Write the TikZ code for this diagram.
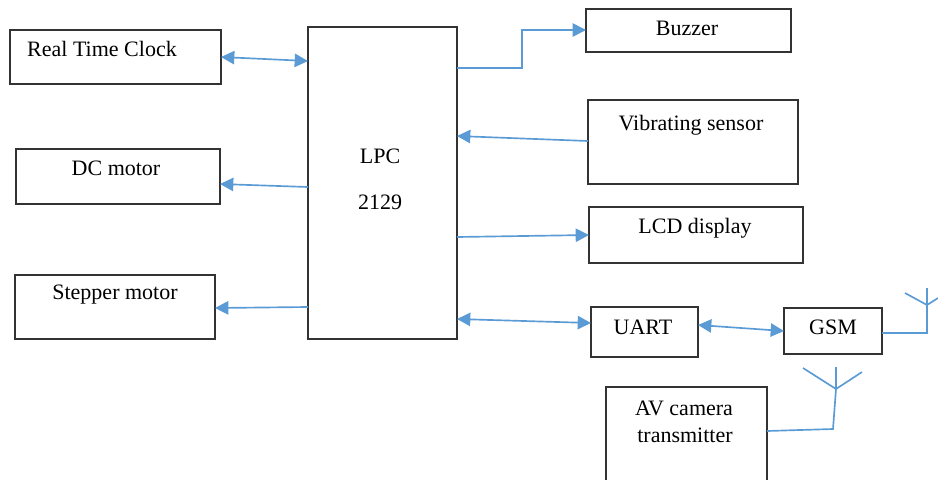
\documentclass[tikz,border=0pt]{standalone}
\usepackage{fontspec}
\setmainfont{Liberation Serif}
\usepackage{xcolor}
\usetikzlibrary{arrows.meta,positioning,calc}
\definecolor{linkblue}{HTML}{5B9BD5}
\tikzset{
  blockbox/.style 2 args={rectangle,draw=black!80,line width=1.1pt,inner sep=0pt,outer sep=0pt,
    minimum width=#1*0.75pt,minimum height=#2*0.75pt},
  blocktext/.style={font=\fontsize{16.5}{20}\selectfont,inner sep=0pt,align=center},
  onelink/.style={linkblue,line width=1.25pt,-{Triangle[length=10pt,width=10pt]}},
  twolink/.style={linkblue,line width=1.25pt,{Triangle[length=10pt,width=10pt]}-{Triangle[length=10pt,width=10pt]}},
  aerial/.style={linkblue,line width=1.25pt},
}
\begin{document}
\begin{tikzpicture}[x=0.75pt,y=-0.75pt]
  \useasboundingbox (0,0) rectangle (938,479);
  % controller
  \node[blockbox={149}{312}] (lpc) at (382.5,183) {};
  \node[blocktext] (lpctext) at (380,156) {LPC};
  \node[blocktext] (lpcnum) at (380,202) {2129};
  % left column
  \node[blockbox={211}{54}] (rtc) at (115.5,57) {};
  \node[blocktext] (rtctext) at (102,49) {Real Time Clock};
  \node[blockbox={204}{55}] (dcm) at (118,176.5) {};
  \node[blocktext] (dcmtext) at (116,168) {DC motor};
  \node[blockbox={200}{64}] (step) at (115,307) {};
  \node[blocktext] (steptext) at (115,295) {Stepper motor};
  % right column
  \node[blockbox={205}{43}] (buzz) at (688.5,30.5) {};
  \node[blocktext] (buzztext) at (687,28) {Buzzer};
  \node[blockbox={210}{84}] (vib) at (693,142) {};
  \node[blocktext] (vibtext) at (691,125) {Vibrating sensor};
  \node[blockbox={214}{56}] (lcd) at (696,235) {};
  \node[blocktext] (lcdtext) at (695,228) {LCD display};
  \node[blockbox={107}{50}] (uart) at (644.5,332) {};
  \node[blocktext] (uarttext) at (643,327) {UART};
  \node[blockbox={98}{46}] (gsm) at (833,331) {};
  \node[blocktext] (gsmtext) at (833,327) {GSM};
  \node[blockbox={161}{110}] (cam) at (686.5,442) {};
  \node[blocktext] (camtext) at (684,408) {AV camera};
  \node[blocktext] (camtext2) at (685,435) {transmitter};
  % aerial points
  \coordinate (gsmfoot) at (927,333);
  \coordinate (gsmtip) at (927,305);
  \coordinate (camfoot) at (833,429);
  \coordinate (camtip) at (836,389);
  % links
  \draw[twolink] (rtc.east) -- (lpc.west |- 0,61);
  \draw[onelink] (lpc.west |- 0,187) -- (dcm.east |- 0,184);
  \draw[onelink] (lpc.west |- 0,307) -- (step.east |- 0,308);
  \draw[onelink] (lpc.east |- 0,68) -- (522,68) -- (522,30) -- (buzz.west |- 0,30);
  \draw[onelink] (vib.west |- 0,141) -- (lpc.east |- 0,136);
  \draw[onelink] (lpc.east |- 0,237) -- (lcd.west |- 0,235);
  \draw[twolink] (lpc.east |- 0,319) -- (uart.west |- 0,323);
  \draw[twolink] (uart.east |- 0,325) -- (gsm.west);
  % aerials
  \draw[aerial] (gsm.east |- gsmfoot) -- (gsmfoot) -- (gsmtip);
  \draw[aerial] (gsmtip) -- (927,288);
  \draw[aerial] (gsmtip) -- (905,293);
  \draw[aerial] (gsmtip) -- (938,298);
  \draw[aerial] (cam.east |- 0,431) -- (camfoot) -- (camtip);
  \draw[aerial] (camtip) -- (836,367);
  \draw[aerial] (camtip) -- (803,368);
  \draw[aerial] (camtip) -- (862,372);
\end{tikzpicture}
\end{document}
